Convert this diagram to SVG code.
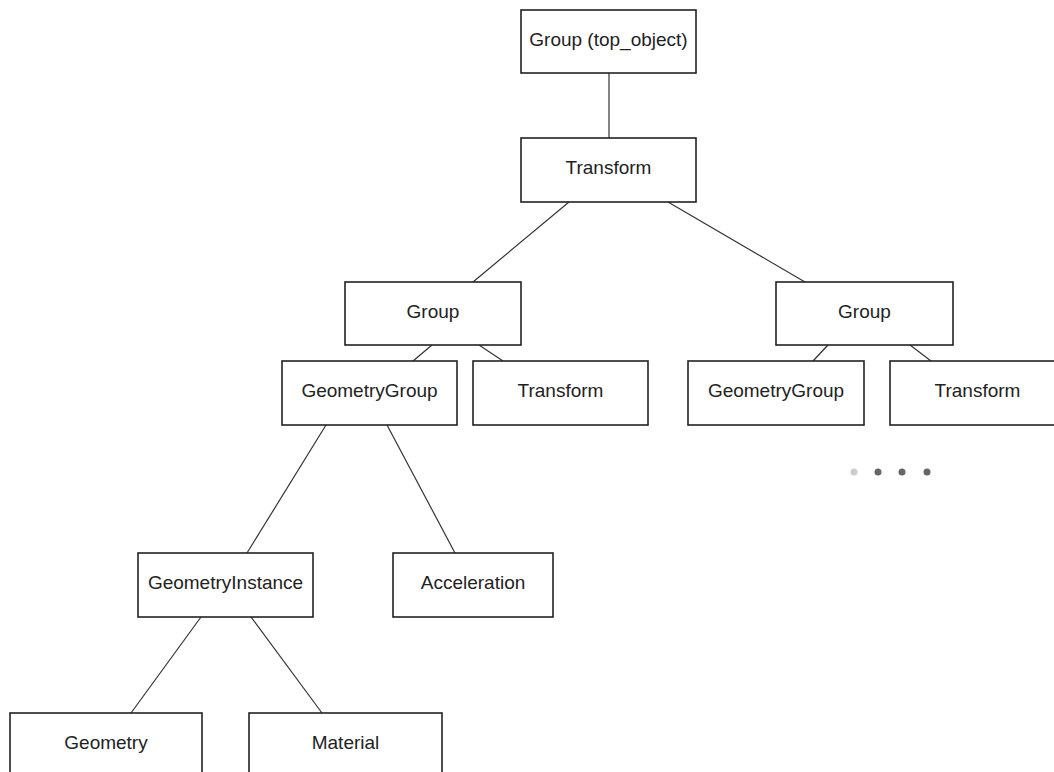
<svg xmlns="http://www.w3.org/2000/svg" width="1054" height="772" viewBox="0 0 1054 772">
  <style>
    .box { fill: #ffffff; stroke: #222222; stroke-width: 1.6; }
    .lbl { font-family: "Liberation Sans", Arial, sans-serif; font-size: 19px; fill: #222222; text-anchor: middle; }
    .edge { stroke: #333333; stroke-width: 1.2; fill: none; }
  </style>
  <rect width="1054" height="772" fill="#ffffff"/>

  <!-- connectors -->
  <g id="connectors">
    <line class="edge" x1="609" y1="73" x2="609" y2="138"/>
    <line class="edge" x1="569" y1="202" x2="473" y2="282"/>
    <line class="edge" x1="668" y1="202" x2="805" y2="282"/>
    <line class="edge" x1="432" y1="345" x2="413" y2="361"/>
    <line class="edge" x1="479" y1="345" x2="503" y2="361"/>
    <line class="edge" x1="828" y1="345" x2="813" y2="361"/>
    <line class="edge" x1="910" y1="345" x2="931" y2="361"/>
    <line class="edge" x1="326" y1="425" x2="247" y2="553"/>
    <line class="edge" x1="387" y1="425" x2="455" y2="553"/>
    <line class="edge" x1="201" y1="617" x2="131" y2="713"/>
    <line class="edge" x1="251" y1="617" x2="322" y2="713"/>
  </g>

  <!-- nodes -->
  <g id="top-group">
    <rect class="box" x="521" y="10" width="175" height="63"/>
    <text class="lbl" x="608.5" y="46">Group (top_object)</text>
  </g>
  <g id="root-transform">
    <rect class="box" x="521" y="138" width="175" height="64"/>
    <text class="lbl" x="608.5" y="174">Transform</text>
  </g>
  <g id="group-left">
    <rect class="box" x="345" y="282" width="176" height="63"/>
    <text class="lbl" x="433" y="318">Group</text>
  </g>
  <g id="group-right">
    <rect class="box" x="776" y="282" width="177" height="63"/>
    <text class="lbl" x="864.5" y="318">Group</text>
  </g>
  <g id="geometrygroup-left">
    <rect class="box" x="282" y="361" width="175" height="64"/>
    <text class="lbl" x="369.5" y="397">GeometryGroup</text>
  </g>
  <g id="transform-left">
    <rect class="box" x="473" y="361" width="175" height="64"/>
    <text class="lbl" x="560.5" y="397">Transform</text>
  </g>
  <g id="geometrygroup-right">
    <rect class="box" x="688" y="361" width="176" height="64"/>
    <text class="lbl" x="776" y="397">GeometryGroup</text>
  </g>
  <g id="transform-right">
    <rect class="box" x="890" y="361" width="175" height="64"/>
    <text class="lbl" x="977.5" y="397">Transform</text>
  </g>
  <g id="more">
    <circle cx="854" cy="472" r="3.5" fill="#cccccc"/>
    <circle cx="878" cy="472" r="3.5" fill="#666666"/>
    <circle cx="902" cy="472" r="3.5" fill="#666666"/>
    <circle cx="927" cy="472" r="3.5" fill="#666666"/>
  </g>
  <g id="geometryinstance">
    <rect class="box" x="138" y="553" width="175" height="64"/>
    <text class="lbl" x="225.5" y="589">GeometryInstance</text>
  </g>
  <g id="acceleration">
    <rect class="box" x="393" y="553" width="160" height="64"/>
    <text class="lbl" x="473" y="589">Acceleration</text>
  </g>
  <g id="geometry">
    <rect class="box" x="10" y="713" width="192" height="64"/>
    <text class="lbl" x="106" y="749">Geometry</text>
  </g>
  <g id="material">
    <rect class="box" x="249" y="713" width="193" height="64"/>
    <text class="lbl" x="345.5" y="749">Material</text>
  </g>
</svg>
